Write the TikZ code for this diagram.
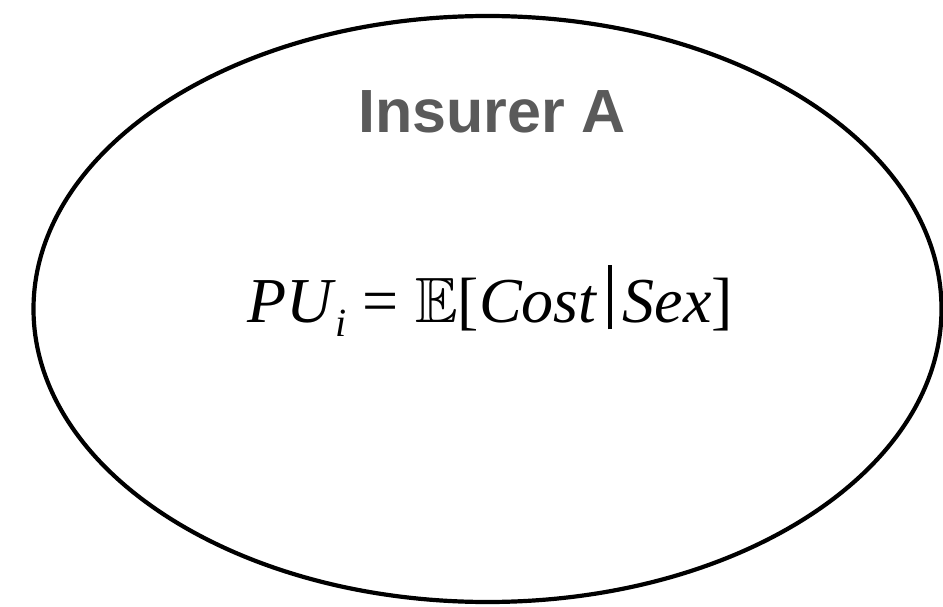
\documentclass[tikz,border=0pt]{standalone}
\usepackage{fontspec}
\usepackage{amssymb}
\setmainfont{Liberation Serif}
\setsansfont{Liberation Sans}
\usetikzlibrary{shapes.geometric}
\definecolor{titlegray}{RGB}{90,90,90}
\begin{document}
\begin{tikzpicture}[x=1pt, y=-1pt,
      market/.style={ellipse, draw=black, line width=4.2pt, inner sep=0pt,
        minimum width=908pt, minimum height=586pt},
      title/.style={font=\sffamily\bfseries\fontsize{61}{61}\selectfont, text=titlegray},
      formula/.style={font=\fontsize{64}{64}\selectfont}]
    \useasboundingbox (0,0) rectangle (943,607);
    \node[market] (insurer) at (487.5,309) {};
    \node[title, anchor=base] (name) at (492,133) {Insurer A};
    \node[formula, anchor=base] (premium) at (490,322)
      {\textit{PU}\raisebox{-0.5ex}{\fontsize{40}{40}\selectfont\textit{i}}\ =\ $\mathbb{E}$[\textit{Cost}\,\rule[-0.25ex]{0.06em}{1.0em}\,\textit{Sex}]};
  \end{tikzpicture}
\end{document}
